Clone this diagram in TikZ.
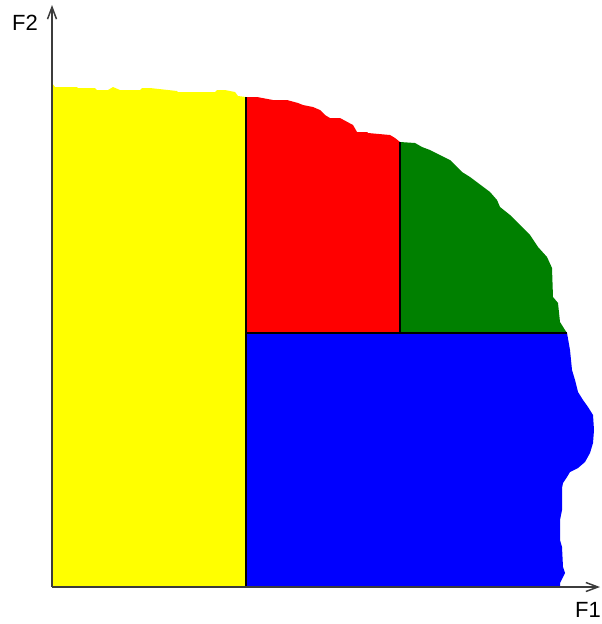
\documentclass[tikz,border=0pt]{standalone}
\usepackage{fontspec}
\setmainfont{Liberation Sans}
\usetikzlibrary{positioning,arrows.meta}
\definecolor{zoneyellow}{RGB}{255,255,0}
\definecolor{zonered}{RGB}{255,0,0}
\definecolor{zonegreen}{RGB}{0,128,0}
\definecolor{zoneblue}{RGB}{0,0,255}
\definecolor{axisgray}{RGB}{60,60,60}

\begin{document}
\begin{tikzpicture}[
  x=1pt, y=-1pt,
  region/.style={draw=none},
  axis/.style={-{Straight Barb[length=12pt,width=9pt]}, line width=1.5pt, draw=axisgray},
  divline/.style={line width=1.6pt, black},
  axlabel/.style={font=\fontsize{22}{22}\selectfont, inner sep=0pt},
]
\useasboundingbox (0,0) rectangle (602,624);

% Axes corners and splits
\coordinate (O) at (52,587);
\coordinate (xend) at (600,587);
\coordinate (yend) at (52,5);
\coordinate (s1top) at (246,97);
\coordinate (s1bot) at (246,587);
\coordinate (mid) at (246,333);
\coordinate (midend) at (567,333);
\coordinate (s2top) at (400,142);
\coordinate (s2bot) at (400,333);

% Yellow zone
\fill[zoneyellow, region] (O) -- (52,83) -- (55,87) -- (77,87) -- (78,88) -- (95,88)
  -- (97,90) -- (108,90) -- (113,87) -- (120,90) -- (140,90) -- (142,88) -- (150,88)
  -- (177,91) -- (178,92) -- (215,92) -- (217,90) -- (225,90) -- (235,92) -- (238,96)
  -- (s1top) -- (s1bot) -- cycle;

% Red zone
\fill[zonered, region] (mid) -- (s1top) -- (257,97) -- (273,100) -- (287,100) -- (298,103)
  -- (303,105) -- (313,107) -- (320,110) -- (325,115) -- (330,118) -- (340,118)
  -- (353,125) -- (357,132) -- (367,132) -- (368,133) -- (390,135) -- (395,138)
  -- (s2top) -- (s2bot) -- cycle;

% Green zone
\fill[zonegreen, region] (s2bot) -- (s2top) -- (415,143) -- (422,147) -- (430,150)
  -- (440,155) -- (450,160) -- (457,167) -- (462,172) -- (470,177) -- (478,183)
  -- (490,192) -- (497,200) -- (500,207) -- (510,215) -- (520,225) -- (530,235)
  -- (538,247) -- (547,257) -- (552,268) -- (553,297) -- (558,303) -- (560,322)
  -- (565,330) -- (midend) -- cycle;

% Blue zone
\fill[zoneblue, region] (s1bot) -- (mid) -- (midend) -- (570,350) -- (572,370) -- (575,380)
  -- (578,392) -- (583,400) -- (588,407) -- (593,415) -- (594,430) -- (593,443)
  -- (590,453) -- (585,462) -- (578,468) -- (570,472) -- (567,477) -- (563,483)
  -- (562,488) -- (562,510) -- (560,520) -- (560,540) -- (562,547) -- (563,567)
  -- (565,573) -- (560,583) -- (560,587) -- cycle;

% Split lines
\draw[divline] (s1top) -- (s1bot);
\draw[divline] (mid) -- (midend);
\draw[divline] (s2top) -- (s2bot);

% Axes
\draw[axis] (O) -- (xend);
\draw[axis] (O) -- (yend);
\node[axlabel] (f2) at (25,23) {F2};
\node[axlabel, anchor=east] (f1) at (601,610) {F1};
\end{tikzpicture}
\end{document}
